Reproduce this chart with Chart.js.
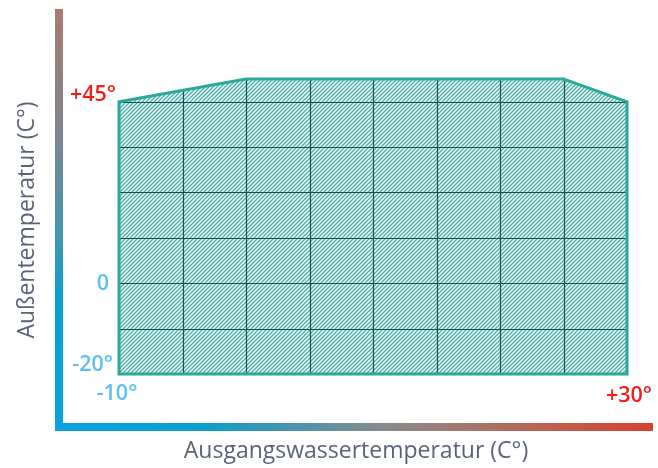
<!DOCTYPE html>
<html>
<head>
<meta charset="utf-8">
<script src="https://cdn.jsdelivr.net/npm/chart.js@4.4.1/dist/chart.umd.min.js"></script>
<style>
  html, body { margin: 0; padding: 0; background: #fff; }
  #wrap { width: 658px; height: 468px; }
</style>
</head>
<body>
<div id="wrap"><canvas id="myChart"></canvas></div>
<script>
// envelope corners (water temp, outdoor temp)
const waterTemps = [-10, -10, 0, 25, 30, 30, -10];
const outdoorTemps = [-20, 40, 45, 45, 40, -20, -20];

// grid inside the envelope
const gridX = [-10, -5, 0, 5, 10, 15, 20, 25, 30];
const gridY = [-20, -10, 0, 10, 20, 30, 40];

// label texts
const xTitle = "Ausgangswassertemperatur (C°)";
const yTitle = "Außentemperatur (C°)";

const red = "#f41c1c";
const blue = "#5cc1ec";

const makeHatch = () => {
  const s = 4;
  const c = document.createElement("canvas");
  c.width = s;
  c.height = s;
  const g = c.getContext("2d");
  g.fillStyle = "#ffffff";
  g.fillRect(0, 0, s, s);
  g.strokeStyle = "#3db2a8";
  g.lineWidth = 1.3;
  g.beginPath();
  g.moveTo(0, s);
  g.lineTo(s, 0);
  g.moveTo(-1, 1);
  g.lineTo(1, -1);
  g.moveTo(s - 1, s + 1);
  g.lineTo(s + 1, s - 1);
  g.stroke();
  return g.createPattern(c, "repeat");
};

const points = waterTemps.map((x, i) => ({ x: x, y: outdoorTemps[i] }));

const polyPath = (chart) => {
  const xs = chart.scales.x;
  const ys = chart.scales.y;
  const ctx = chart.ctx;
  ctx.beginPath();
  points.forEach((p, i) => {
    const px = xs.getPixelForValue(p.x);
    const py = ys.getPixelForValue(p.y);
    if (i === 0) ctx.moveTo(px, py);
    else ctx.lineTo(px, py);
  });
  ctx.closePath();
};

const envelopePlugin = {
  id: "envelope",
  afterDatasetsDraw(chart) {
    const ctx = chart.ctx;
    const xs = chart.scales.x;
    const ys = chart.scales.y;
    ctx.save();
    polyPath(chart);
    ctx.clip();
    ctx.strokeStyle = "#1d4a5a";
    ctx.lineWidth = 1.2;
    gridX.forEach((v) => {
      const px = Math.round(xs.getPixelForValue(v)) + 0.5;
      ctx.beginPath();
      ctx.moveTo(px, chart.chartArea.top);
      ctx.lineTo(px, chart.chartArea.bottom);
      ctx.stroke();
    });
    gridY.forEach((v) => {
      const py = Math.round(ys.getPixelForValue(v)) + 0.5;
      ctx.beginPath();
      ctx.moveTo(chart.chartArea.left, py);
      ctx.lineTo(chart.chartArea.right, py);
      ctx.stroke();
    });
    ctx.restore();

    ctx.save();
    polyPath(chart);
    ctx.strokeStyle = "#2aa89b";
    ctx.lineWidth = 3;
    ctx.lineJoin = "miter";
    ctx.stroke();
    ctx.restore();
  },
  afterDraw(chart) {
    const ctx = chart.ctx;
    const xs = chart.scales.x;
    const ys = chart.scales.y;
    ctx.save();

    // axis bars
    const vg = ctx.createLinearGradient(0, 9, 0, 431);
    vg.addColorStop(0, "#aa7a6c");
    vg.addColorStop(0.3, "#7d8790");
    vg.addColorStop(0.55, "#3f97b4");
    vg.addColorStop(0.68, "#0aa0d2");
    vg.addColorStop(1, "#08a2e4");
    ctx.fillStyle = vg;
    ctx.fillRect(55, 9, 8, 422);

    const hg = ctx.createLinearGradient(55, 0, 653, 0);
    hg.addColorStop(0, "#08a2e4");
    hg.addColorStop(0.25, "#0d9ec8");
    hg.addColorStop(0.55, "#888a8c");
    hg.addColorStop(0.78, "#b46a58");
    hg.addColorStop(1, "#d8402e");
    ctx.fillStyle = hg;
    ctx.fillRect(63, 423, 590, 8);
    ctx.fillStyle = "#08a2e4";
    ctx.fillRect(55, 423, 8, 8);

    // value labels
    ctx.font = "600 21.5px 'Open Sans'";
    ctx.textBaseline = "middle";
    ctx.textAlign = "right";
    ctx.fillStyle = red;
    ctx.fillText("+45°", xs.getPixelForValue(-10) - 3, ys.getPixelForValue(40) - 7);
    ctx.fillStyle = blue;
    ctx.fillText("0", xs.getPixelForValue(-10) - 10, ys.getPixelForValue(0) + 1);
    ctx.fillText("-20°", xs.getPixelForValue(-10) - 6, ys.getPixelForValue(-20) - 9);
    ctx.textAlign = "center";
    ctx.fillText("-10°", xs.getPixelForValue(-10) - 2, ys.getPixelForValue(-20) + 20);
    ctx.fillStyle = red;
    ctx.fillText("+30°", xs.getPixelForValue(30) + 2, ys.getPixelForValue(-20) + 22);

    // axis titles
    ctx.font = "23px 'Open Sans'";
    ctx.fillStyle = "#5a6479";
    ctx.fillText(xTitle, 356, 451);
    ctx.translate(27, 220);
    ctx.rotate(-Math.PI / 2);
    ctx.fillText(yTitle, 0, 0);
    ctx.restore();
  },
};

const ctx = document.getElementById("myChart");

new Chart(ctx, {
  type: "scatter",
  data: {
    datasets: [
      {
        data: points,
        showLine: true,
        fill: "shape",
        backgroundColor: makeHatch(),
        borderColor: "#2aa89b",
        borderWidth: 0,
        pointRadius: 0,
        tension: 0,
        clip: false,
      },
    ],
  },
  options: {
    responsive: true,
    maintainAspectRatio: false,
    animation: false,
    layout: {
      padding: { left: 119, right: 31, top: 79, bottom: 94 },
    },
    plugins: {
      legend: { display: false },
      tooltip: { enabled: false },
    },
    scales: {
      x: { type: "linear", min: -10, max: 30, display: false },
      y: { type: "linear", min: -20, max: 45, display: false },
    },
  },
  plugins: [envelopePlugin],
});
</script>
</body>
</html>
